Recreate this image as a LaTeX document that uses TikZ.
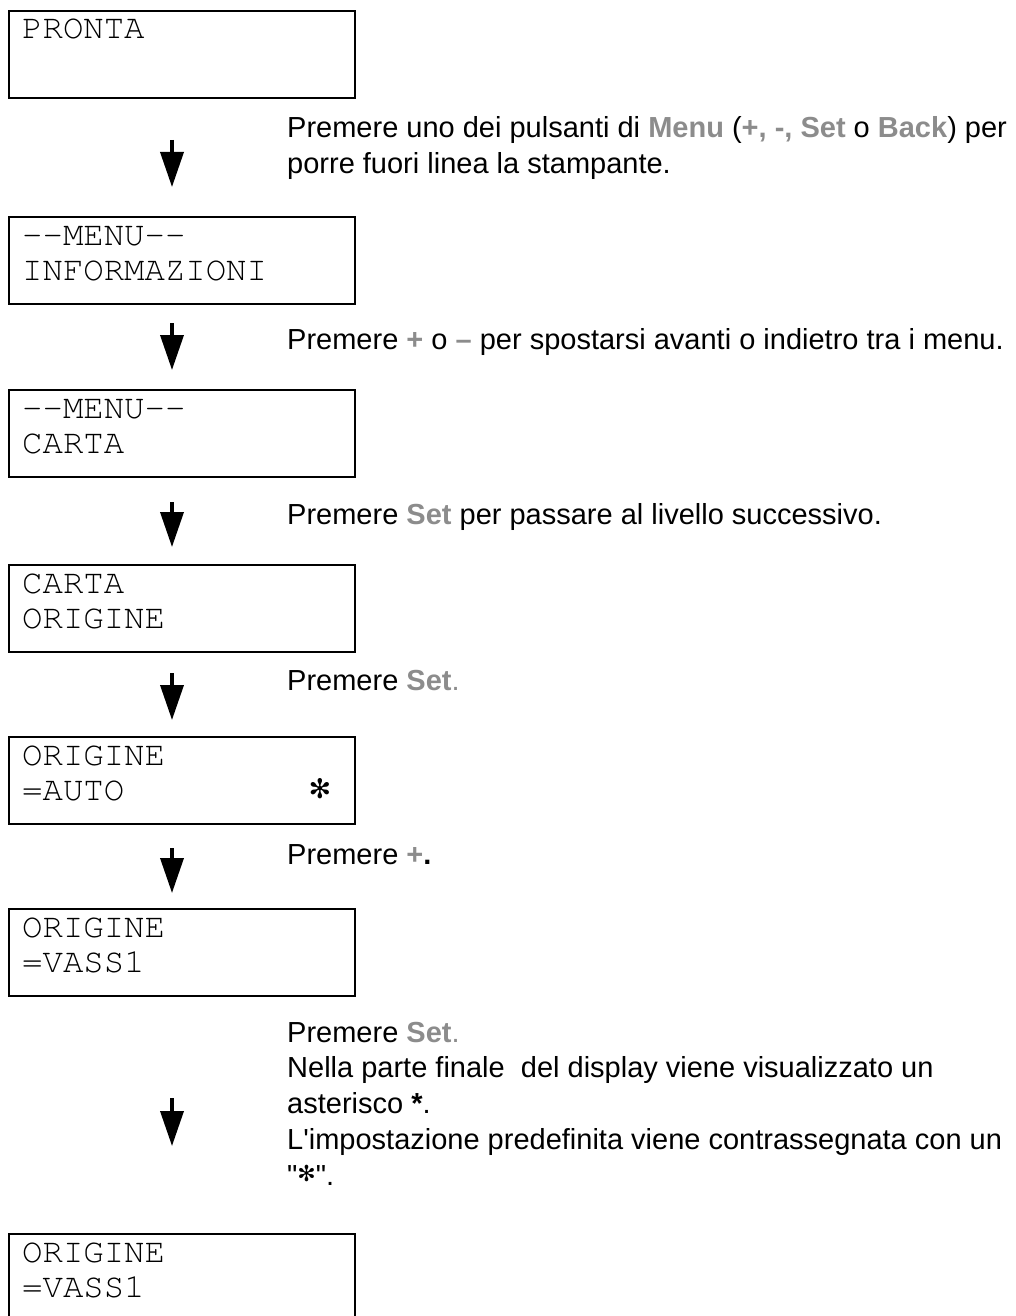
\documentclass[tikz,border=0pt]{standalone}
\usepackage{fontspec}
\setmainfont{Liberation Sans}
\newfontfamily\starfont{DejaVu Sans}
\newfontfamily\lcdfont{TeX Gyre Cursor}
\usepackage{xcolor}
\usetikzlibrary{arrows.meta}

\definecolor{keygray}{RGB}{140,140,140}
\newcommand{\key}[1]{\textbf{\color{keygray}#1}}
\newcommand{\bigstar}[1]{{\starfont\fontsize{#1}{#1}\selectfont ✻}}

\begin{document}
\begin{tikzpicture}[x=1pt, y=-1pt]
    \tikzstyle{display}=[draw, line width=2.4pt, minimum width=346pt, minimum height=87pt, inner sep=0pt, anchor=north west]
    \tikzstyle{lcd}=[font=\lcdfont\fontsize{34}{40}\selectfont, inner sep=0pt, text height=22pt, text depth=4pt, anchor=base west]
    \tikzstyle{note}=[font=\fontsize{29}{36}\selectfont, inner sep=0pt, anchor=base west]
    \tikzstyle{flow}=[line width=3.6pt, -{Triangle[length=35pt, width=23pt]}]

    \useasboundingbox (0,0) rectangle (1016,1316);

    % displays
    \node[display] (b1) at (8,10) {};
    \node[display] (b2) at (8,216) {};
    \node[display] (b3) at (8,389) {};
    \node[display] (b4) at (8,564) {};
    \node[display] (b5) at (8,736) {};
    \node[display] (b6) at (8,908) {};
    \node[display] (b7) at (8,1233) {};

    \node[lcd] (b1l1) at ([xshift=14pt, yshift=-29pt]b1.north west) {PRONTA};
    \node[lcd] (b2l1) at ([xshift=14pt, yshift=-29pt]b2.north west) {-{}-MENU-{}-};
    \node[lcd] (b2l2) at ([xshift=14pt, yshift=-64pt]b2.north west) {INFORMAZIONI};
    \node[lcd] (b3l1) at ([xshift=14pt, yshift=-29pt]b3.north west) {-{}-MENU-{}-};
    \node[lcd] (b3l2) at ([xshift=14pt, yshift=-64pt]b3.north west) {CARTA};
    \node[lcd] (b4l1) at ([xshift=14pt, yshift=-29pt]b4.north west) {CARTA};
    \node[lcd] (b4l2) at ([xshift=14pt, yshift=-64pt]b4.north west) {ORIGINE};
    \node[lcd] (b5l1) at ([xshift=14pt, yshift=-29pt]b5.north west) {ORIGINE};
    \node[lcd] (b5l2) at ([xshift=14pt, yshift=-64pt]b5.north west) {=AUTO};
    \node[inner sep=0pt] (b5star) at (320,789) {\bigstar{27}};
    \node[lcd] (b6l1) at ([xshift=14pt, yshift=-29pt]b6.north west) {ORIGINE};
    \node[lcd] (b6l2) at ([xshift=14pt, yshift=-64pt]b6.north west) {=VASS1};
    \node[lcd] (b7l1) at ([xshift=14pt, yshift=-29pt]b7.north west) {ORIGINE};
    \node[lcd] (b7l2) at ([xshift=14pt, yshift=-64pt]b7.north west) {=VASS1};

    % notes
    \node[note] (t1a) at (287,138) {Premere uno dei pulsanti di \key{Menu} (\key{+, -, Set} o \key{Back}) per};
    \node[note] (t1b) at (287,174) {porre fuori linea la stampante.};
    \node[note] (t2) at (287,349) {Premere \key{+} o \key{--} per spostarsi avanti o indietro tra i menu.};
    \node[note] (t3) at (287,524) {Premere \key{Set} per passare al livello successivo.};
    \node[note] (t4) at (287,690) {Premere \key{Set}{\color{keygray}.}};
    \node[note] (t5) at (287,864) {Premere \key{+}\textbf{.}};
    \node[note] (t6a) at (287,1042) {Premere \key{Set}{\color{keygray}.}};
    \node[note] (t6b) at (287,1077) {Nella parte finale~ del display viene visualizzato un};
    \node[note] (t6c) at (287,1113) {asterisco \textbf{*}.};
    \node[note] (t6d) at (287,1149) {L\textquotesingle impostazione predefinita viene contrassegnata con un};
    \node[note] (t6e) at (287,1185) {\textquotedbl\raisebox{4pt}{\bigstar{22}}\textquotedbl.};

    % arrows
    \coordinate (a1s) at (172,140);  \coordinate (a1e) at (172,187);
    \coordinate (a2s) at (172,323);  \coordinate (a2e) at (172,370);
    \coordinate (a3s) at (172,502);  \coordinate (a3e) at (172,547);
    \coordinate (a4s) at (172,673);  \coordinate (a4e) at (172,720);
    \coordinate (a5s) at (172,848);  \coordinate (a5e) at (172,893);
    \coordinate (a6s) at (172,1098); \coordinate (a6e) at (172,1146);

    \draw[flow] (a1s) -- (a1e);
    \draw[flow] (a2s) -- (a2e);
    \draw[flow] (a3s) -- (a3e);
    \draw[flow] (a4s) -- (a4e);
    \draw[flow] (a5s) -- (a5e);
    \draw[flow] (a6s) -- (a6e);
\end{tikzpicture}
\end{document}
